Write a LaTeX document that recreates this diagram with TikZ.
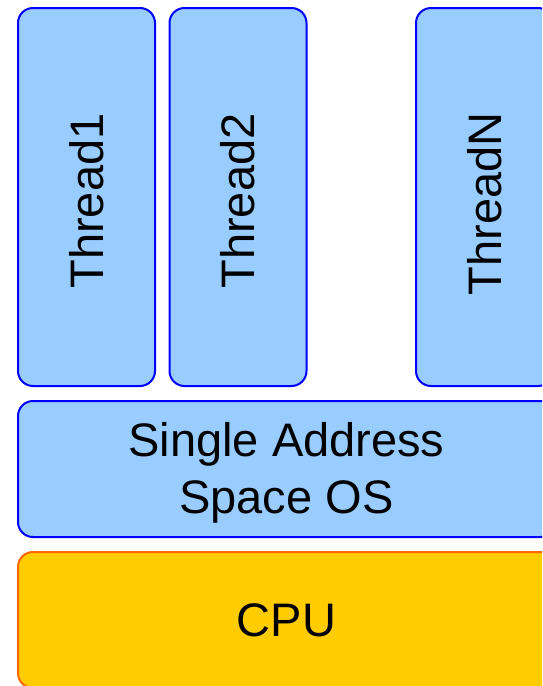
\documentclass[tikz,border=0pt]{standalone}
\usepackage{fontspec}
\setmainfont{Liberation Sans}
\definecolor{layerfill}{HTML}{99CCFF}
\definecolor{layerline}{HTML}{0000FF}
\definecolor{cpufill}{HTML}{FFCC00}
\definecolor{cpuline}{HTML}{FF6600}
\tikzset{
  layer/.style={draw=layerline, fill=layerfill, line width=2pt,
    rounded corners=15pt, inner sep=0pt, align=center,
    font=\fontsize{47}{57}\selectfont},
  threadbox/.style={layer, rotate=90, minimum width=378pt, minimum height=137pt},
  widebox/.style={layer, minimum width=537pt, minimum height=136pt},
  cpubox/.style={widebox, draw=cpuline, fill=cpufill}
}
\begin{document}
\begin{tikzpicture}[x=1pt, y=-1pt]
  \useasboundingbox (0,0) rectangle (542,686);
  \clip (0,0) rectangle (542,686);
  % thread stack (labels nudged a little toward the bottom)
  \node[threadbox] (t1) at (86.5,197) {\hspace*{-8pt}Thread1};
  \node[threadbox] (t2) at (238,197) {\hspace*{-8pt}Thread2};
  \node[threadbox] (tn) at (484.5,197) {\hspace*{-14pt}ThreadN};
  % operating system layer (the strut lowers the two lines slightly)
  \node[widebox] (os) at (286.5,469) {\rule{0pt}{42pt}Single Address\\Space OS};
  % hardware
  \node[cpubox] (cpu) at (286.5,620) {CPU};
\end{tikzpicture}
\end{document}
